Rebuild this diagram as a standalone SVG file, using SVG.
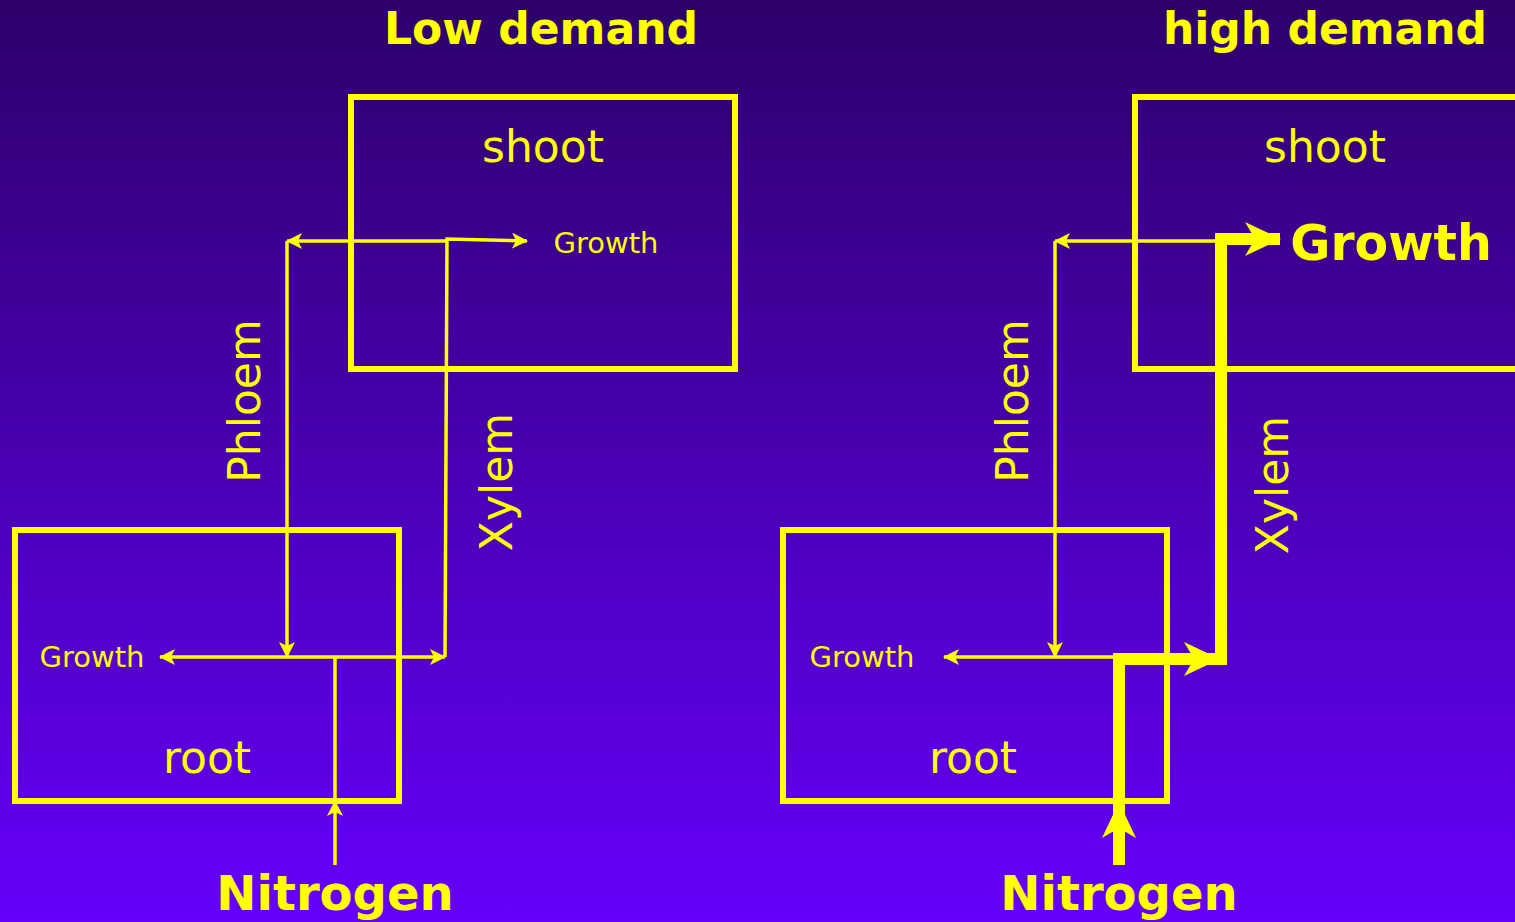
<svg xmlns="http://www.w3.org/2000/svg" width="1515" height="922" viewBox="0 0 1515 922">
<defs>
<linearGradient id="bg" x1="0" y1="0" x2="0" y2="1">
<stop offset="0" stop-color="#2d006a"/>
<stop offset="1" stop-color="#6500fa"/>
</linearGradient>
<marker id="a" viewBox="0 0 16 16" refX="15" refY="8" markerWidth="16" markerHeight="16" markerUnits="userSpaceOnUse" orient="auto">
<path d="M0,0 L16,8 L0,16 L4,8 Z" fill="#ffff00"/>
</marker>
<marker id="A" viewBox="0 0 36 34" refX="35" refY="17" markerWidth="36" markerHeight="34" markerUnits="userSpaceOnUse" orient="auto">
<path d="M0,0 L36,17 L0,34 L10,17 Z" fill="#ffff00"/>
</marker>
<style>
.box{fill:none;stroke:#ffff00;stroke-width:6}
.t{fill:none;stroke:#ffff00;stroke-width:3.5}
.T{fill:none;stroke:#ffff00;stroke-width:12}
text{fill:#ffff00;font-family:"DejaVu Sans",Verdana,sans-serif;text-anchor:middle}
.h{font-weight:bold;font-size:44px}
.l{font-size:44px}
.s{font-size:29px}
</style>
</defs>
<rect width="1515" height="922" fill="url(#bg)"/>
<g id="title-low"><text class="h" x="541" y="44">Low demand</text></g>
<g id="title-high"><text class="h" x="1325" y="44">high demand</text></g>
<g id="shoot-left"><rect class="box" x="351" y="97" width="384" height="272"/><text class="l" x="543" y="162">shoot</text><text class="s" x="606" y="253">Growth</text></g>
<g id="root-left"><rect class="box" x="15" y="530" width="384" height="271"/><text class="l" x="207" y="773">root</text><text class="s" x="92" y="667">Growth</text></g>
<g id="shoot-right"><rect class="box" x="1135" y="97" width="400" height="272"/><text class="l" x="1325" y="162">shoot</text><text class="h" style="font-size:49px" x="1391" y="260">Growth</text></g>
<g id="root-right"><rect class="box" x="783" y="530" width="384" height="271"/><text class="l" x="973" y="773">root</text><text class="s" x="862" y="667">Growth</text></g>
<g id="labels">
<text class="l" transform="translate(260,401) rotate(-90)">Phloem</text>
<text class="l" transform="translate(512,482) rotate(-90)">Xylem</text>
<text class="l" transform="translate(1028,401) rotate(-90)">Phloem</text>
<text class="l" transform="translate(1288,485) rotate(-90)">Xylem</text>
<text class="h" style="font-size:48px" x="335" y="910">Nitrogen</text>
<text class="h" style="font-size:48px" x="1119" y="910">Nitrogen</text>
</g>
<g id="connectors">
<path class="t" d="M447,241 H287" marker-end="url(#a)"/>
<path class="t" d="M287,241 V657" marker-end="url(#a)"/>
<path class="t" d="M335,865 V801" marker-end="url(#a)"/>
<path class="t" d="M335,801 V657"/>
<path class="t" d="M335,657 H160" marker-end="url(#a)"/>
<path class="t" d="M335,657 H445" marker-end="url(#a)"/>
<path class="t" d="M445,657 L447,239 L527,241" marker-end="url(#a)"/>
<path class="t" d="M1220,241 H1055" marker-end="url(#a)"/>
<path class="t" d="M1055,241 V657" marker-end="url(#a)"/>
<path class="t" d="M1119,657 H944" marker-end="url(#a)"/>
<path class="T" d="M1119,865 V803" marker-end="url(#A)"/>
<path class="T" d="M1119,803 V659 H1219" marker-end="url(#A)"/>
<path class="T" d="M1221,665 V239 H1280" marker-end="url(#A)"/>
</g>
</svg>
